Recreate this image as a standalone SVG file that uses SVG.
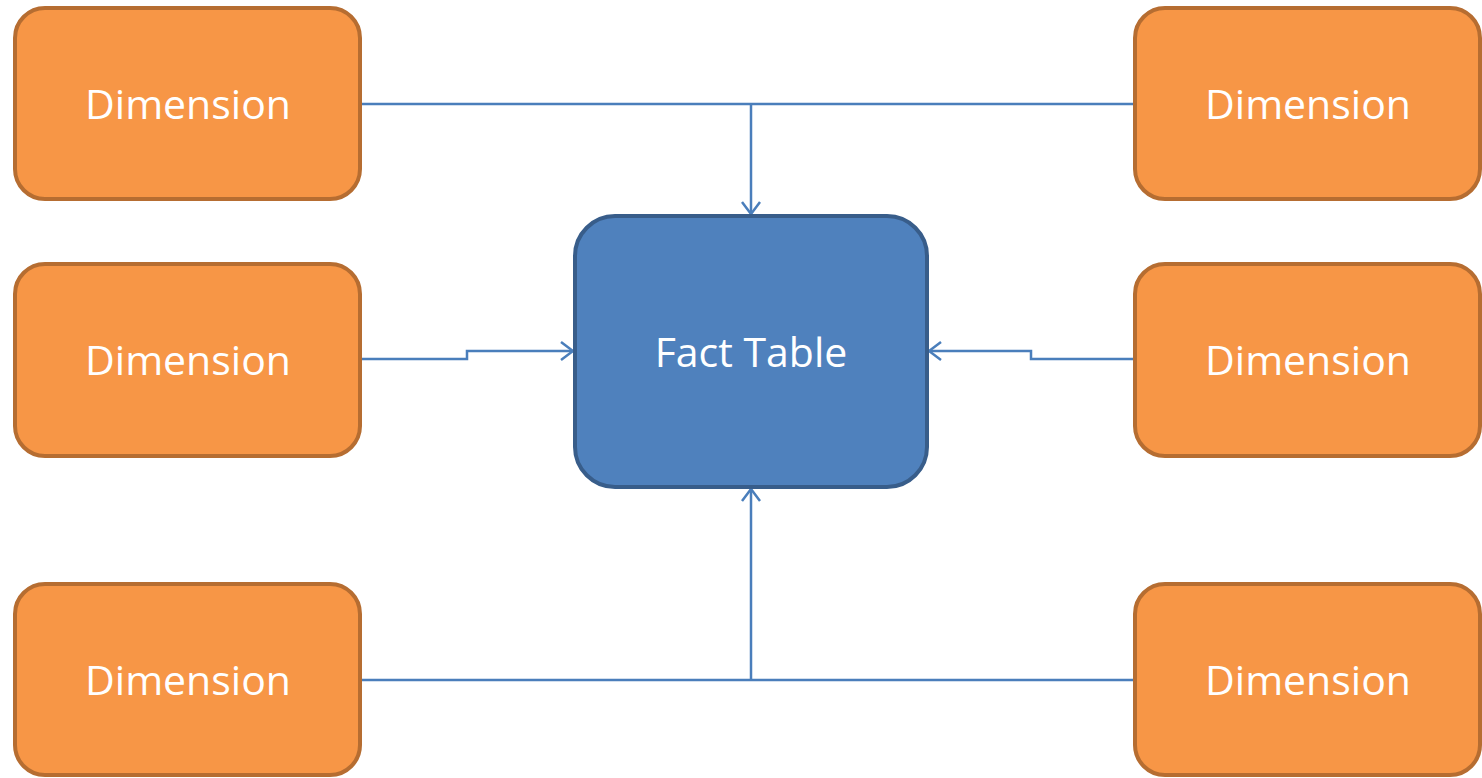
<svg xmlns="http://www.w3.org/2000/svg" width="1482" height="778" viewBox="0 0 1482 778">
<defs>
<style>
.dim rect{fill:#f79646;stroke:#b66d31;stroke-width:4}
.fact rect{fill:#4f81bd;stroke:#385d8a;stroke-width:4}
text{font-family:"Open Sans","Liberation Sans",sans-serif;font-size:41px;fill:#ffffff;text-anchor:middle}
.conn path{fill:none;stroke:#4a7ebb;stroke-width:2.5}
</style>
<marker id="arr" viewBox="0 0 14 20" refX="13" refY="10" markerWidth="14" markerHeight="20" markerUnits="userSpaceOnUse" orient="auto">
<path d="M1,1 L13,10 L1,19" fill="none" stroke="#4a7ebb" stroke-width="2.5"/>
</marker>
</defs>
<rect width="1482" height="778" fill="#ffffff"/>
<g class="conn" id="connectors">
<path d="M361,104 H1134"/>
<path d="M751,104 V214" marker-end="url(#arr)"/>
<path d="M361,359 H467 V351 H573" marker-end="url(#arr)"/>
<path d="M1134,359 H1031 V351 H929" marker-end="url(#arr)"/>
<path d="M361,680 H1134"/>
<path d="M751,680 V489" marker-end="url(#arr)"/>
</g>
<g class="dim" id="dim-tl"><rect x="15" y="8" width="345" height="191" rx="30"/><text x="188" y="119">Dimension</text></g>
<g class="dim" id="dim-tr"><rect x="1135" y="8" width="345" height="191" rx="30"/><text x="1308" y="119">Dimension</text></g>
<g class="dim" id="dim-ml"><rect x="15" y="264" width="345" height="192" rx="30"/><text x="188" y="375">Dimension</text></g>
<g class="dim" id="dim-mr"><rect x="1135" y="264" width="345" height="192" rx="30"/><text x="1308" y="375">Dimension</text></g>
<g class="dim" id="dim-bl"><rect x="15" y="584" width="345" height="191" rx="30"/><text x="188" y="695">Dimension</text></g>
<g class="dim" id="dim-br"><rect x="1135" y="584" width="345" height="191" rx="30"/><text x="1308" y="695">Dimension</text></g>
<g class="fact" id="fact"><rect x="575" y="216" width="352" height="271" rx="40"/><text x="751" y="367">Fact Table</text></g>
</svg>
